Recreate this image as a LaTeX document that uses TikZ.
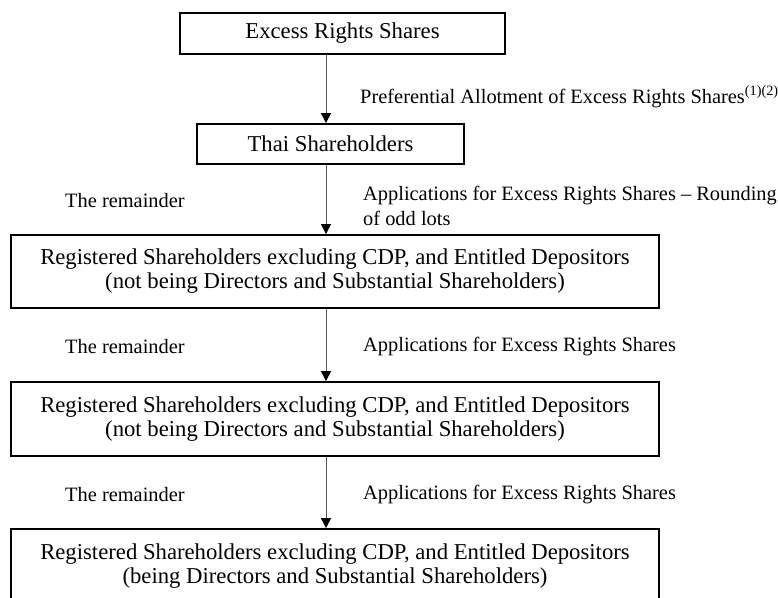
\documentclass[tikz,border=0pt]{standalone}
\usepackage{fontspec}
\setmainfont{Liberation Serif}
\usetikzlibrary{arrows.meta}
\begin{document}
\begin{tikzpicture}[x=1pt,y=-1pt,
  boxnode/.style={draw=black,line width=1.8pt,fill=white,inner sep=0pt,align=center,
    font=\fontsize{22.7}{24}\selectfont},
  lbl/.style={inner sep=0pt,anchor=west,align=left,font=\fontsize{20.4}{25}\selectfont},
  arr/.style={draw=black!65,line width=1pt,-{Triangle[length=10pt,width=10pt,fill=black,color=black]}}]
\useasboundingbox (0,0) rectangle (778,597);
\clip (0,0) rectangle (778,597);
\coordinate (ax) at (326,0);
\node[boxnode,minimum width=325pt,minimum height=41pt] (b1) at (342.5,33.5) {Excess Rights Shares};
\node[boxnode,minimum width=267pt,minimum height=40pt] (b2) at (330.5,144) {Thai Shareholders};
\node[boxnode,minimum width=648pt,minimum height=73pt] (b3) at (335,271.5)
  {Registered Shareholders excluding CDP, and Entitled Depositors\\(not being Directors and Substantial Shareholders)};
\node[boxnode,minimum width=648pt,minimum height=74pt] (b4) at (335,419)
  {Registered Shareholders excluding CDP, and Entitled Depositors\\(not being Directors and Substantial Shareholders)};
\node[boxnode,minimum width=648pt,minimum height=74pt] (b5) at (335,566)
  {Registered Shareholders excluding CDP, and Entitled Depositors\\(being Directors and Substantial Shareholders)};
\draw[arr] (b1.south -| ax) -- (b2.north -| ax);
\draw[arr] (b2.south -| ax) -- (b3.north -| ax);
\draw[arr] (b3.south -| ax) -- (b4.north -| ax);
\draw[arr] (b4.south -| ax) -- (b5.north -| ax);
\node[lbl] (l1) at (360,97) {Preferential Allotment of Excess Rights Shares\textsuperscript{(1)(2)}};
\node[lbl] (r1) at (65,201) {The remainder};
\node[lbl] (l2) at (363,205.5) {Applications for Excess Rights Shares – Rounding\\of odd lots};
\node[lbl] (r2) at (65,347) {The remainder};
\node[lbl] (l3) at (363,347) {Applications for Excess Rights Shares};
\node[lbl] (r3) at (65,495) {The remainder};
\node[lbl] (l4) at (363,495) {Applications for Excess Rights Shares};
\end{tikzpicture}
\end{document}
